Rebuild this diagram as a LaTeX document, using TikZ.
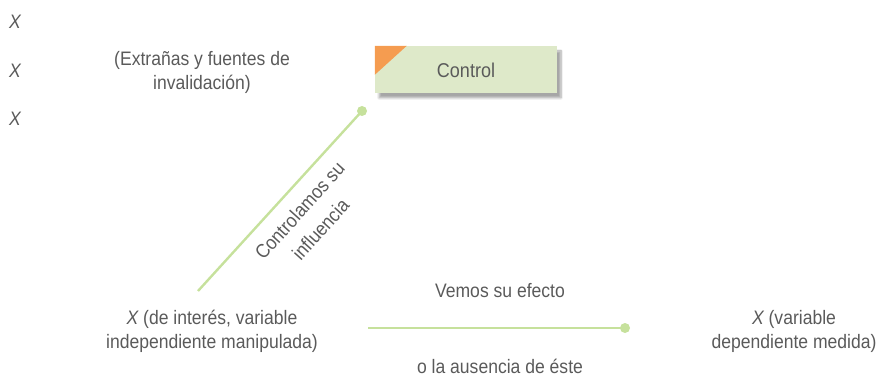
\documentclass[tikz,border=0pt]{standalone}
\usepackage{fontspec}
\setmainfont[FakeStretch=0.9]{Liberation Sans}
\usetikzlibrary{shadows.blur}
\definecolor{txt}{HTML}{5A5A5A}
\definecolor{lgreen}{HTML}{C6E19C}
\definecolor{boxfill}{HTML}{DEE9C9}
\definecolor{corner}{HTML}{F59C50}
\tikzset{
  lbl/.style={text=txt, font=\fontsize{19.5}{24}\selectfont, align=center, inner sep=0pt},
  conn/.style={draw=lgreen, line width=2.4pt},
  dot/.style={fill=lgreen},
  ctrlbox/.style={fill=boxfill, minimum width=182pt, minimum height=47pt, inner sep=0pt,
    blur shadow={shadow xshift=4pt, shadow yshift=-5pt, shadow blur steps=8, shadow opacity=35}}
}
\begin{document}
\begin{tikzpicture}[x=1pt,y=-1pt]
\useasboundingbox (0,0) rectangle (883,379);
\node[lbl] (x1) at (15,22) {\itshape X};
\node[lbl] (x2) at (15,71) {\itshape X};
\node[lbl] (x3) at (15,119) {\itshape X};
\node[lbl] (ext) at (202,72) {(Extrañas y fuentes de\\invalidación)};
\node[ctrlbox] (ctrl) at (466,69.5) {};
\fill[corner] (ctrl.north west) -- ++(32,0) -- ++(-32,29) -- cycle;
\node[lbl, font=\fontsize{20}{24}\selectfont] (ctrltxt) at (466,70) {Control};
\coordinate (d1) at (198,291);
\coordinate (d2) at (362,111);
\draw[conn] (d1) -- (d2);
\fill[dot] (d2) circle (5pt);
\node[lbl, rotate=48, font=\fontsize{19.5}{28}\selectfont] (infl) at (310,220) {Controlamos su\\influencia};
\node[lbl] (xint) at (212,331) {\itshape X\upshape{} (de interés, variable\\independiente manipulada)};
\coordinate (h1) at (368,328);
\coordinate (h2) at (625,328);
\draw[conn] (h1) -- (h2);
\fill[dot] (h2) circle (5pt);
\node[lbl] (vemos) at (500,291) {Vemos su efecto};
\node[lbl] (aus) at (500,366) {o la ausencia de éste};
\node[lbl] (xdep) at (794,331) {\itshape X\upshape{} (variable\\dependiente medida)};
\end{tikzpicture}
\end{document}
